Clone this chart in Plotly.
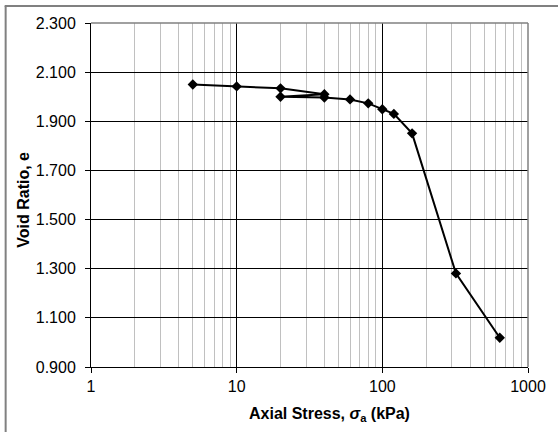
import plotly.graph_objects as go

# Oedometer test: axial stress vs void ratio (load, unload/reload, load)
stress_kpa = [5, 10, 20, 40, 20, 40, 60, 80, 100, 120, 160, 320, 640]
void_ratio = [2.050, 2.042, 2.034, 2.010, 2.000, 1.997, 1.989, 1.973, 1.949,
              1.930, 1.851, 1.281, 1.019]

x_major_ticks = [1, 10, 100, 1000]
x_minor_ticks = [2, 3, 4, 5, 6, 7, 8, 9, 20, 30, 40, 50, 60, 70, 80, 90,
                 200, 300, 400, 500, 600, 700, 800, 900]
y_ticks = [0.9, 1.1, 1.3, 1.5, 1.7, 1.9, 2.1, 2.3]

x_title = "<b>Axial Stress, <i>σ</i><sub>a</sub> (kPa)</b>"
y_title = "<b>Void Ratio, e</b>"

W, H = 558, 432
ML, MR, MT, MB = 91, 19, 23, 65
pw, ph = W - ML - MR, H - MT - MB
FONT = "Arial, Liberation Sans, sans-serif"


def px_x(px):
    """Pixel column -> paper x."""
    return (px - ML) / pw


def px_y(py):
    """Pixel row (from top) -> paper y."""
    return (H - MB - py) / ph


fig = go.Figure()
fig.add_trace(go.Scatter(
    x=stress_kpa, y=void_ratio, mode="lines+markers",
    line=dict(color="black", width=2),
    marker=dict(symbol="diamond", size=8, color="black"),
    showlegend=False,
))

fig.update_xaxes(
    type="log", range=[0, 3],
    tickvals=x_major_ticks, ticktext=[str(v) for v in x_major_ticks],
    ticks="outside", ticklen=5, tickcolor="black",
    showline=True, linecolor="black", linewidth=1,
    showgrid=True, gridcolor="black", gridwidth=1,
    minor=dict(tickvals=x_minor_ticks, showgrid=True,
               gridcolor="#c0c0c0", gridwidth=1, ticks=""),
    tickfont=dict(family=FONT, size=16, color="black"),
    zeroline=False,
)
fig.update_yaxes(
    range=[0.9, 2.3], tickvals=y_ticks, tickformat=".3f",
    ticks="outside", ticklen=5, tickcolor="black", ticklabelstandoff=6,
    showline=True, linecolor="black", linewidth=1,
    showgrid=True, gridcolor="black", gridwidth=1,
    tickfont=dict(family=FONT, size=16, color="black"),
    zeroline=False,
)

shapes = [
    # gray outline along the top and right of the plotting area
    dict(type="line", xref="x domain", yref="y domain", x0=0, x1=1, y0=1, y1=1,
         line=dict(color="#808080", width=1.5), layer="above"),
    dict(type="line", xref="x domain", yref="y domain", x0=1, x1=1, y0=0, y1=1,
         line=dict(color="#808080", width=1.5), layer="above"),
    # chart-area frame (left and top edges)
    dict(type="line", xref="paper", yref="paper",
         x0=px_x(3.5), x1=px_x(3.5), y0=px_y(H + 20), y1=px_y(6),
         line=dict(color="#808080", width=2), layer="above"),
    dict(type="line", xref="paper", yref="paper",
         x0=px_x(2.5), x1=px_x(W + 20), y0=px_y(6), y1=px_y(6),
         line=dict(color="#808080", width=2), layer="above"),
]

annotations = [
    dict(text=x_title, xref="paper", yref="paper",
         x=px_x(336), y=px_y(414), xanchor="center", yanchor="middle",
         showarrow=False, font=dict(family=FONT, size=16, color="black")),
    dict(text=y_title, xref="paper", yref="paper", textangle=-90,
         x=px_x(21), y=px_y(200), xanchor="center", yanchor="middle",
         showarrow=False, font=dict(family=FONT, size=16, color="black")),
]

fig.update_layout(
    width=W, height=H,
    margin=dict(l=ML, r=MR, t=MT, b=MB),
    paper_bgcolor="white", plot_bgcolor="white",
    shapes=shapes, annotations=annotations,
    font=dict(family=FONT, color="black"),
)

fig.write_html("out.html")
